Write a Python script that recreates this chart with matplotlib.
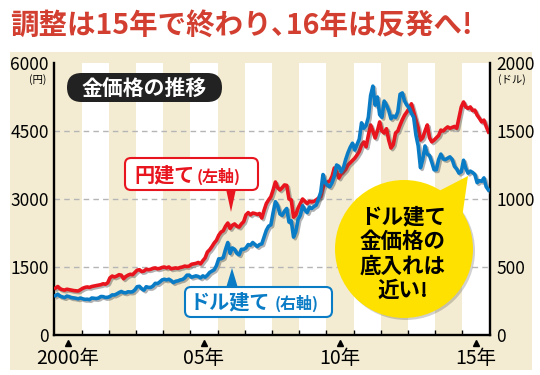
import numpy as np
import matplotlib
matplotlib.use('Agg')
import matplotlib.pyplot as plt
import matplotlib.patches as mpatches
import matplotlib.patheffects as pe
import matplotlib.transforms as mtrans

# 月次データ (2000年1月〜2015年12月)
yen_per_gram = [
    1036, 1070, 1020, 1000, 990, 1010, 1000, 990, 980, 975, 970, 1000,      # 2000
    1030, 1050, 1060, 1050, 1070, 1080, 1090, 1100, 1110, 1130, 1120, 1150,  # 2001
    1260, 1300, 1280, 1300, 1330, 1320, 1240, 1290, 1320, 1340, 1330, 1380,  # 2002
    1430, 1440, 1400, 1410, 1450, 1440, 1450, 1470, 1480, 1460, 1470, 1490,  # 2003
    1500, 1480, 1500, 1460, 1470, 1480, 1470, 1490, 1500, 1520, 1510, 1520,  # 2004
    1560, 1570, 1580, 1600, 1570, 1640, 1700, 1830, 1880, 1950, 2030, 2090,  # 2005
    2200, 2270, 2300, 2400, 2470, 2350, 2420, 2450, 2400, 2380, 2450, 2500,  # 2006
    2650, 2700, 2650, 2690, 2680, 2660, 2680, 2580, 2750, 2900, 2980, 3050,  # 2007
    3200, 3375, 3250, 3200, 3250, 3310, 3300, 3000, 2980, 2600, 2650, 2800,  # 2008
    2900, 3000, 2950, 2900, 2950, 2935, 2950, 2980, 3020, 3050, 3250, 3350,  # 2009
    3375, 3400, 3500, 3684, 3600, 3463, 3550, 3596, 3650, 3750, 3800, 3850,  # 2010
    3900, 3970, 4050, 4190, 4258, 4150, 4400, 4633, 4500, 4346, 4500, 4700,  # 2011
    4500, 4456, 4550, 4300, 4125, 4200, 4456, 4500, 4633, 4750, 4850, 4920,  # 2012
    5000, 5100, 4920, 4740, 4567, 4300, 4350, 4500, 4633, 4350, 4260, 4300,  # 2013
    4350, 4400, 4520, 4500, 4550, 4590, 4560, 4580, 4600, 4560, 4800, 5030,  # 2014
    5140, 5030, 5000, 5030, 4950, 4960, 4850, 4780, 4700, 4740, 4600, 4480,  # 2015
]
usd_per_oz = [
    290, 300, 286, 280, 275, 286, 282, 275, 273, 270, 266, 272,
    266, 262, 263, 260, 272, 270, 268, 272, 283, 282, 276, 277,
    283, 295, 294, 302, 312, 320, 312, 310, 318, 316, 318, 332,
    355, 358, 340, 330, 355, 350, 350, 360, 380, 378, 390, 405,
    410, 405, 410, 400, 385, 395, 398, 405, 408, 420, 440, 440,
    425, 430, 435, 430, 420, 435, 425, 440, 460, 470, 480, 510,
    560, 560, 570, 630, 680, 600, 640, 630, 600, 590, 630, 630,
    640, 665, 660, 680, 665, 650, 665, 670, 720, 770, 800, 810,
    900, 980, 950, 890, 880, 910, 930, 830, 840, 720, 760, 850,
    880, 950, 920, 900, 940, 930, 945, 955, 1000, 1050, 1180, 1120,
    1100, 1090, 1120, 1170, 1250, 1240, 1199, 1230, 1290, 1340, 1380, 1410,
    1360, 1400, 1440, 1560, 1520, 1540, 1600, 1760, 1830, 1690, 1750, 1620,
    1600, 1720, 1690, 1650, 1590, 1610, 1600, 1640, 1770, 1780, 1720, 1690,
    1670, 1630, 1600, 1470, 1390, 1230, 1290, 1390, 1330, 1320, 1270, 1215,
    1215, 1290, 1330, 1295, 1290, 1300, 1310, 1290, 1240, 1220, 1190, 1200,
    1285, 1225, 1190, 1205, 1195, 1180, 1120, 1135, 1130, 1155, 1090, 1066,
]
start_year = 2000
year_ticks = [2000.5, 2005.5, 2010.5, 2015.5]
year_labels = ['2000年', '05年', '10年', '15年']
left_ticks = [0, 1500, 3000, 4500, 6000]
right_ticks = [0, 500, 1000, 1500, 2000]

RED = '#e8141e'
BLUE = '#0a7cc6'
BEIGE = '#f3ecd2'
TITLE_RED = '#d23f30'
JP = ['Noto Sans CJK JP', 'DejaVu Sans']
NUM = ['Liberation Sans Narrow', 'Noto Sans CJK JP', 'DejaVu Sans']

plt.rcParams['font.family'] = NUM

x = start_year + (np.arange(len(yen_per_gram)) + 0.5) / 12

fig = plt.figure(figsize=(5.4, 3.75), dpi=100)
T = fig.dpi_scale_trans


def P(px, py):
    # ピクセル座標 -> インチ
    return (px / 100, (375 - py) / 100)


# 背景パネル
fig.add_artist(mpatches.Rectangle(P(10, 370), 5.22, 3.18, transform=T,
                                  facecolor=BEIGE, edgecolor='none', zorder=-1))

fig.text(*P(10, 26), '調整は15年で終わり､16年は反発へ!', transform=T,
         color=TITLE_RED, fontsize=20.5, fontweight='bold', family=JP,
         ha='left', va='center')

ax = fig.add_axes([54.4 / 540, 1 - 335 / 375, 435.2 / 540, 272 / 375])
ax.set_facecolor('none')
ax.set_xlim(2000, 2016)
ax.set_ylim(0, 6000)

for yr in range(2001, 2016, 2):
    ax.axvspan(yr, yr + 1, color='white', lw=0, zorder=0)
for v in [1500, 3000, 4500]:
    ax.axhline(v, color='#b5b5b5', lw=1, ls=(0, (4, 3)), zorder=1)

shadow = [pe.SimpleLineShadow(offset=(1.2, -1.2), shadow_color='#555555', alpha=0.45),
          pe.Normal()]
ax.plot(x, yen_per_gram, color=RED, lw=2.6, zorder=3, path_effects=shadow,
        solid_joinstyle='round')

ax.set_yticks(left_ticks)
ax.tick_params(axis='y', length=0, labelsize=12.5, pad=4)
ax.set_xticks(year_ticks)
ax.set_xticklabels(year_labels)
ax.tick_params(axis='x', which='major', length=0, labelsize=14, pad=9)
ax.set_xticks(range(2001, 2016), minor=True)
ax.tick_params(axis='x', which='minor', direction='in', length=3.5, width=1)
for s in ['left', 'bottom']:
    ax.spines[s].set_linewidth(1.7)
ax.spines['top'].set_visible(False)
ax.spines['right'].set_visible(False)

blend = mtrans.blended_transform_factory(ax.transData, ax.transAxes)
ax.plot(year_ticks, [-0.03] * 4, transform=blend, marker='^', ls='none',
        color='black', ms=5, clip_on=False)

ax2 = ax.twinx()
ax2.set_ylim(0, 2000)
ax2.plot(x, usd_per_oz, color=BLUE, lw=2.6, zorder=3, path_effects=shadow,
         solid_joinstyle='round')
ax2.set_yticks(right_ticks)
ax2.tick_params(axis='y', length=0, labelsize=12.5, pad=5)
ax2.spines['right'].set_linewidth(1.7)
for s in ['top', 'left', 'bottom']:
    ax2.spines[s].set_visible(False)

fig.text(*P(38, 80), '(円)', transform=T, fontsize=7.5, family=JP,
         ha='center', va='center')
fig.text(*P(512, 80), '(ドル)', transform=T, fontsize=7.5, family=JP,
         ha='center', va='center')

# 金価格の推移
fig.add_artist(mpatches.FancyBboxPatch(P(67, 102), 1.55, 0.29, transform=T,
               boxstyle='round,pad=0,rounding_size=0.145',
               facecolor='#222222', edgecolor='none', zorder=5))
fig.text(*P(144, 88), '金価格の推移', transform=T, color='white', fontsize=15,
         fontweight='bold', family=JP, ha='center', va='center', zorder=6)

# 円建て(左軸)
fig.add_artist(mpatches.FancyBboxPatch(P(125, 190), 1.33, 0.32, transform=T,
               boxstyle='round,pad=0,rounding_size=0.06',
               facecolor='white', edgecolor=RED, lw=1.5, zorder=5))
fig.add_artist(mpatches.Polygon([P(226, 189), P(236, 189), P(231, 212)],
               closed=True, transform=T, facecolor=RED, edgecolor='none', zorder=5))
fig.text(*P(134, 175), '円建て', transform=T, color=RED, fontsize=14.5,
         fontweight='bold', family=JP, ha='left', va='center', zorder=6)
fig.text(*P(197, 176), '(左軸)', transform=T, color=RED, fontsize=11.5,
         fontweight='bold', family=JP, ha='left', va='center', zorder=6)

# ドル建て(右軸)
fig.add_artist(mpatches.FancyBboxPatch(P(185, 317), 1.47, 0.30, transform=T,
               boxstyle='round,pad=0,rounding_size=0.06',
               facecolor='white', edgecolor=BLUE, lw=1.5, zorder=5))
fig.add_artist(mpatches.Polygon([P(226, 288), P(238, 288), P(232, 268)],
               closed=True, transform=T, facecolor=BLUE, edgecolor='none', zorder=5))
fig.text(*P(190, 302), 'ドル建て', transform=T, color=BLUE, fontsize=14.5,
         fontweight='bold', family=JP, ha='left', va='center', zorder=6)
fig.text(*P(275, 303), '(右軸)', transform=T, color=BLUE, fontsize=11.5,
         fontweight='bold', family=JP, ha='left', va='center', zorder=6)

# 吹き出し
fig.add_artist(mpatches.Circle(P(406, 251), 0.69, transform=T,
               facecolor='#000000', alpha=0.18, edgecolor='none', zorder=5))
fig.add_artist(mpatches.Circle(P(404, 249), 0.69, transform=T,
               facecolor='#ffe100', edgecolor='none', zorder=5))
fig.add_artist(mpatches.Polygon([P(437, 192), P(468, 176), P(462, 218)],
               closed=True, transform=T, facecolor='#ffe100',
               edgecolor='none', zorder=5))
fig.text(*P(403, 254), 'ドル建て\n金価格の\n底入れは\n近い!', transform=T,
         color='black', fontsize=15.5, fontweight='bold', family=JP,
         ha='center', va='center', linespacing=1.2, zorder=6)

fig.savefig('out.png', dpi=100)
